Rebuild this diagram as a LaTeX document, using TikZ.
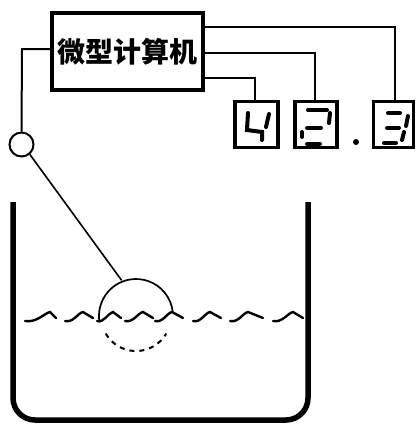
\documentclass[tikz,border=0pt]{standalone}
\usepackage{fontspec}
\usetikzlibrary{calc}
\newfontfamily\cjk{Noto Sans CJK SC}
\begin{document}
\begin{tikzpicture}[x=1pt,y=-1pt,
  wire/.style={line width=2pt},
  frame/.style={draw,line width=3.6pt,inner sep=0pt},
  seg/.style={line width=4pt,line cap=round},
  wall/.style={line width=5.5pt,rounded corners=22pt},
  wave/.style={line width=2.4pt,line cap=round}]
\useasboundingbox (0,0) rectangle (419,426);

% computer
\node[frame,minimum width=151pt,minimum height=77pt] (pc) at (127.5,51.5)
  {\cjk\bfseries\fontsize{28pt}{28pt}\selectfont 微型计算机};

% digit displays
\node[frame,minimum width=43pt,minimum height=46pt] (d1) at (256.5,124.5) {};
\node[frame,minimum width=42pt,minimum height=46pt] (d2) at (316,124.5) {};
\node[frame,minimum width=40pt,minimum height=46pt] (d3) at (393.5,124.5) {};
\node[circle,fill,inner sep=0pt,minimum size=6pt] (dp) at (356,142) {};

% digit 4
\draw[seg] (248,113) -- (247,130) -- (262,132) -- (262,140);
\draw[seg] (269,114) -- (266,127);
% digit 2
\draw[seg] (308,110) -- (327,110);
\draw[seg] (330,113) -- (329,123);
\draw[seg] (307,128) -- (321,128);
\draw[seg] (302,132) -- (302,137);
\draw[seg] (307,144) -- (320,144);
% digit 3
\draw[seg] (388,113) -- (400,113);
\draw[seg] (408,116) -- (406,126);
\draw[seg] (387,128) -- (399,128);
\draw[seg] (404,132) -- (402,140);
\draw[seg] (384,143) -- (396,143);

% wires to displays
\draw[wire] (pc.east |- 0,27) -- (395,27) -- (d3.north -| 395,0);
\draw[wire] (pc.east |- 0,53) -- (315,53) -- (d2.north -| 315,0);
\draw[wire] (pc.east |- 0,78) -- (255,78) -- (d1.north -| 255,0);

% sensor and wire to computer
\node[circle,draw,line width=2pt,minimum size=24pt,inner sep=0pt] (sen) at (21.5,144.5) {};
\draw[wire] (pc.west |- 0,49) -- (22,49) -- (sen.north);

% float on the surface
\coordinate (fc) at (136,316);
\coordinate (ftop) at ($(fc)+(-112:38.5)$);
\draw[line width=1.6pt] (sen.-50) -- (ftop);
\draw[line width=1.7pt] (fc) ++(170:37) arc[start angle=170,end angle=355,radius=37];
\draw[line width=2pt,dash pattern=on 5pt off 5pt] (fc) ++(150:35) arc[start angle=150,end angle=30,radius=35];

% water surface
\foreach \a/\p/\b in {25/50/56,65/83/93,97/113/121,125/143/153,155/172/183,193/210/221,230/248/263,273/293/303}{
  \draw[wave] (\a,321) .. controls ({\a+0.45*(\p-\a)},323) and ({\p-5},313) .. (\p,312) -- (\b,318);
}

% tank
\draw[wall] (13,202) -- (13,420) -- (308,420) -- (308,202);
\end{tikzpicture}
\end{document}
